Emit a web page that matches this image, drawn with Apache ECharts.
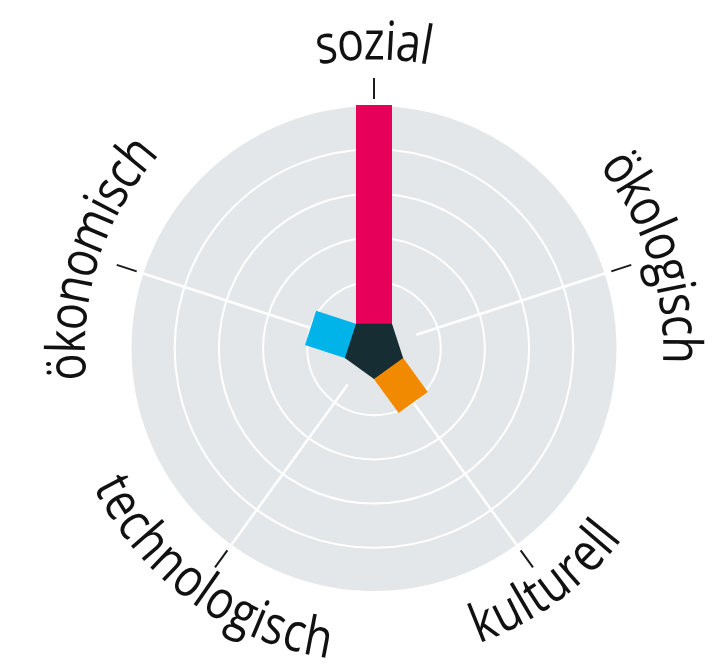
<!DOCTYPE html>
<html>
<head>
<meta charset="utf-8">
<script src="https://cdn.jsdelivr.net/npm/echarts@6/dist/echarts.min.js"></script>
<style>
  html, body { margin: 0; padding: 0; background: #fff; }
  #main { width: 724px; height: 669px; }
</style>
</head>
<body>
<div id="main"></div>
<script>
// Kategorien und Werte
var categories = ['sozial', 'ökologisch', 'kulturell', 'technologisch', 'ökonomisch'];
var values = [5, 0, 1, 0, 1];
var ringMax = 5;

var barColors = ['#e6005a', '#172d34', '#f28a00', '#172d34', '#00b4ea'];
var coreColor = '#172d34';
var halfWidth = 18;

var fontFamily = '"Open Sans", "Noto Sans", sans-serif';
var fontWeight = 400;
var fontSize = 54;
var squeeze = 0.83;

var measureCtx = document.createElement('canvas').getContext('2d');
measureCtx.font = fontWeight + ' ' + fontSize + 'px ' + fontFamily;

function dirOf(api, cs, i) {
    var p = api.coord([ringMax, i]);
    var dx = p[0] - cs.cx, dy = p[1] - cs.cy;
    var len = Math.sqrt(dx * dx + dy * dy);
    return [dx / len, dy / len];
}

var myChart = echarts.init(document.getElementById('main'));
myChart.setOption({
    animation: false,
    polar: {
        center: [374, 348.5],
        radius: [22.5, 243.5]
    },
    angleAxis: {
        type: 'category',
        data: categories,
        // erste Kategorie genau oben
        startAngle: 90 + 180 / categories.length,
        z: 0,
        axisLine: {show: false},
        axisTick: {show: false},
        axisLabel: {show: false},
        splitLine: {show: false},
        splitArea: {show: true, areaStyle: {color: ['#e4e7ea']}}
    },
    radiusAxis: {
        type: 'value',
        min: 0,
        max: ringMax,
        interval: 1,
        z: 1,
        axisLine: {show: false},
        axisTick: {show: false},
        axisLabel: {show: false},
        splitLine: {show: true, lineStyle: {color: '#ffffff', width: 2}},
        splitArea: {show: false}
    },
    series: [
        {
            // Speichen und Markierungen
            type: 'custom',
            coordinateSystem: 'polar',
            z: 2,
            data: categories.map(function (c, i) { return [ringMax, i]; }),
            renderItem: function (params, api) {
                var cs = params.coordSys;
                var i = api.value(1);
                var a = api.coord([0.5, i]);
                var b = api.coord([ringMax, i]);
                var d = dirOf(api, cs, i);
                return {
                    type: 'group',
                    children: [
                        {
                            type: 'line',
                            shape: {x1: a[0], y1: a[1], x2: b[0], y2: b[1]},
                            style: {stroke: '#ffffff', lineWidth: 2.5}
                        },
                        {
                            type: 'line',
                            shape: {
                                x1: cs.cx + d[0] * (cs.r + 6), y1: cs.cy + d[1] * (cs.r + 6),
                                x2: cs.cx + d[0] * (cs.r + 27), y2: cs.cy + d[1] * (cs.r + 27)
                            },
                            style: {stroke: '#1a1a1a', lineWidth: 2}
                        }
                    ]
                };
            }
        },
        {
            // Balken
            type: 'custom',
            coordinateSystem: 'polar',
            z: 3,
            data: values.map(function (v, i) { return [v, i]; }),
            renderItem: function (params, api) {
                var cs = params.coordSys;
                var v = api.value(0);
                var i = api.value(1);
                if (!v) { return; }
                var d = dirOf(api, cs, i);
                var n = [-d[1], d[0]];
                var p0 = api.coord([0, i]);
                var p1 = api.coord([v, i]);
                return {
                    type: 'polygon',
                    shape: {
                        points: [
                            [p0[0] + n[0] * halfWidth, p0[1] + n[1] * halfWidth],
                            [p1[0] + n[0] * halfWidth, p1[1] + n[1] * halfWidth],
                            [p1[0] - n[0] * halfWidth, p1[1] - n[1] * halfWidth],
                            [p0[0] - n[0] * halfWidth, p0[1] - n[1] * halfWidth]
                        ]
                    },
                    style: {fill: barColors[i]}
                };
            }
        },
        {
            // Fuenfeck in der Mitte
            type: 'custom',
            coordinateSystem: 'polar',
            z: 4,
            data: [[0, 0]],
            renderItem: function (params, api) {
                var cs = params.coordSys;
                var rv = halfWidth / Math.sin(Math.PI / 5);
                var pts = [];
                for (var k = 0; k < categories.length; k++) {
                    var d1 = dirOf(api, cs, k);
                    var d2 = dirOf(api, cs, (k + 1) % categories.length);
                    var sx = d1[0] + d2[0], sy = d1[1] + d2[1];
                    var l = Math.sqrt(sx * sx + sy * sy);
                    pts.push([cs.cx + sx / l * rv, cs.cy + sy / l * rv]);
                }
                return {type: 'polygon', shape: {points: pts}, style: {fill: coreColor}};
            }
        },
        {
            // Beschriftung entlang des Kreises
            type: 'custom',
            coordinateSystem: 'polar',
            z: 5,
            data: categories.map(function (c, i) { return [ringMax, i]; }),
            renderItem: function (params, api) {
                var cs = params.coordSys;
                var i = api.value(1);
                var d = dirOf(api, cs, i);
                var theta = Math.atan2(d[0], -d[1]);
                var top = Math.cos(theta) > 0;
                var R = top ? cs.r + 61 : cs.r + 54;
                var text = categories[i];
                var widths = [], total = 0;
                for (var k = 0; k < text.length; k++) {
                    var w = measureCtx.measureText(text[k]).width * squeeze;
                    widths.push(w);
                    total += w;
                }
                var span = total / R;
                var cum = 0;
                var children = [];
                for (var k = 0; k < text.length; k++) {
                    var off = (cum + widths[k] / 2) / R;
                    var t = top ? theta - span / 2 + off : theta + span / 2 - off;
                    cum += widths[k];
                    children.push({
                        type: 'text',
                        x: cs.cx + R * Math.sin(t),
                        y: cs.cy - R * Math.cos(t),
                        rotation: top ? -t : -(t - Math.PI),
                        scaleX: squeeze,
                        style: {
                            text: text[k],
                            x: 0,
                            y: 0,
                            fill: '#111111',
                            fontSize: fontSize,
                            fontFamily: fontFamily,
                            fontWeight: fontWeight,
                            align: 'center',
                            verticalAlign: 'middle'
                        }
                    });
                }
                return {type: 'group', children: children};
            }
        }
    ]
});
</script>
</body>
</html>
